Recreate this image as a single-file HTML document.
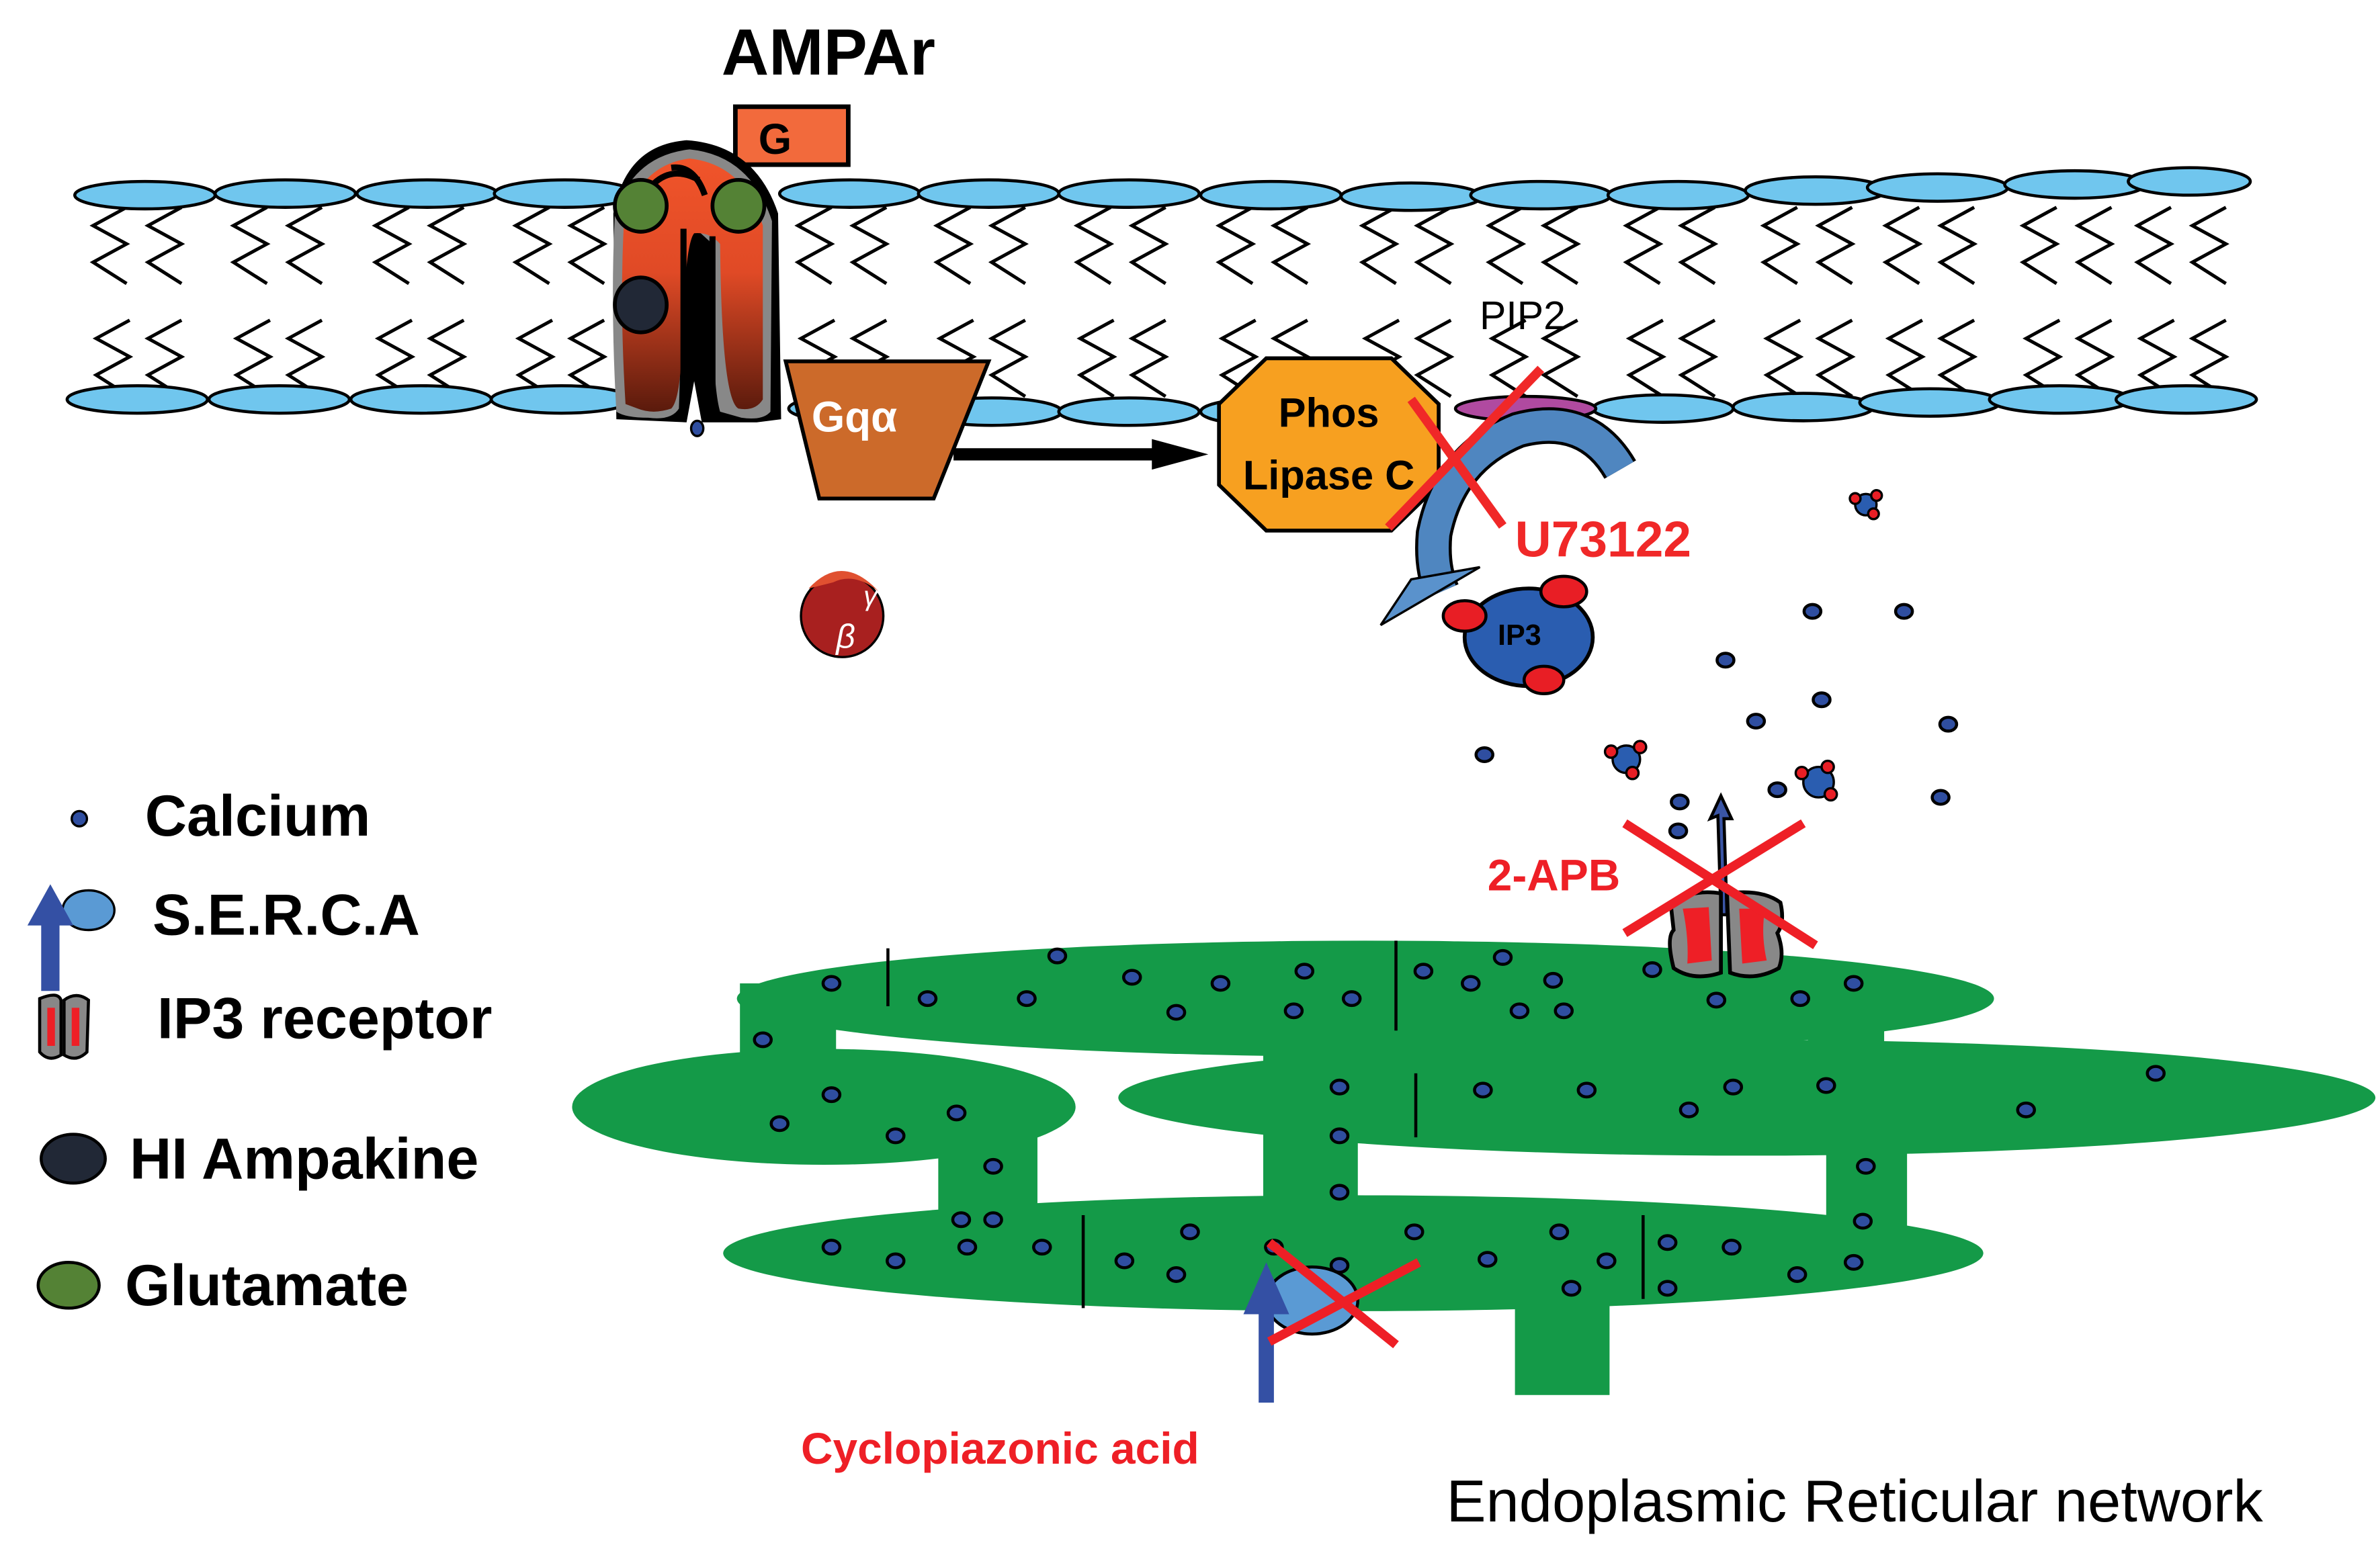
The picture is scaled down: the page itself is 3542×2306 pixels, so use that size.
<!DOCTYPE html>
<html><head><meta charset="utf-8"><style>
html,body{margin:0;padding:0;background:#fff;}
svg{display:block;}
text{font-family:"Liberation Sans",sans-serif;}
</style></head><body>
<svg width="3542" height="2306" viewBox="0 0 1560 1016" preserveAspectRatio="none" xmlns="http://www.w3.org/2000/svg">
<defs>
<linearGradient id="amp" x1="0" y1="0" x2="0" y2="1">
<stop offset="0" stop-color="#f0542a"/><stop offset="0.45" stop-color="#e04a26"/><stop offset="1" stop-color="#5a1a0c"/>
</linearGradient>
<g id="tu" fill="none" stroke="#000" stroke-width="2.2">
<polyline points="-12,136 -34,148 -12,160 -34,172 -12,186"/>
<polyline points="24,136 2,148 24,160 2,172 24,186"/>
</g>
<g id="tl" fill="none" stroke="#000" stroke-width="2.2">
<polyline points="-10,210 -32,222 -10,234 -32,246 -10,260"/>
<polyline points="24,210 2,222 24,234 2,246 24,260"/>
</g>
<g id="ca"><ellipse rx="5.5" ry="4.5" fill="#2f4ea0" stroke="#000" stroke-width="2"/></g>
</defs>

<!-- tails -->
<g>
<use href="#tu" x="95"/><use href="#tu" x="187"/><use href="#tu" x="280"/><use href="#tu" x="372"/>
<use href="#tu" x="557"/><use href="#tu" x="648"/><use href="#tu" x="740"/><use href="#tu" x="833"/><use href="#tu" x="927"/><use href="#tu" x="1010"/><use href="#tu" x="1100"/><use href="#tu" x="1190"/><use href="#tu" x="1270"/><use href="#tu" x="1360"/><use href="#tu" x="1435"/>
<use href="#tl" x="95"/><use href="#tl" x="187"/><use href="#tl" x="280"/><use href="#tl" x="372"/>
<use href="#tl" x="557"/><use href="#tl" x="648"/><use href="#tl" x="740"/><use href="#tl" x="833"/><use href="#tl" x="927"/><use href="#tl" x="1010"/><use href="#tl" x="1100"/><use href="#tl" x="1190"/><use href="#tl" x="1270"/><use href="#tl" x="1360"/><use href="#tl" x="1435"/>
</g>
<!-- heads -->
<g fill="#70c6ee" stroke="#000" stroke-width="2">
<ellipse cx="95" cy="128" rx="46" ry="9"/><ellipse cx="187" cy="127" rx="46" ry="9"/><ellipse cx="280" cy="127" rx="46" ry="9"/><ellipse cx="370" cy="127" rx="46" ry="9"/>
<ellipse cx="557" cy="127" rx="46" ry="9"/><ellipse cx="648" cy="127" rx="46" ry="9"/><ellipse cx="740" cy="127" rx="46" ry="9"/><ellipse cx="833" cy="128" rx="46" ry="9"/><ellipse cx="925" cy="129" rx="46" ry="9"/><ellipse cx="1010" cy="128" rx="46" ry="9"/><ellipse cx="1100" cy="128" rx="46" ry="9"/><ellipse cx="1190" cy="125" rx="46" ry="9"/><ellipse cx="1270" cy="123" rx="46" ry="9"/><ellipse cx="1360" cy="121" rx="46" ry="9"/><ellipse cx="1435" cy="119" rx="40" ry="9"/>
<ellipse cx="90" cy="262" rx="46" ry="9"/><ellipse cx="183" cy="262" rx="46" ry="9"/><ellipse cx="276" cy="262" rx="46" ry="9"/><ellipse cx="368" cy="262" rx="46" ry="9"/>
<ellipse cx="563" cy="268" rx="46" ry="9"/><ellipse cx="650" cy="270" rx="46" ry="9"/><ellipse cx="740" cy="270" rx="46" ry="9"/><ellipse cx="833" cy="270" rx="46" ry="9"/><ellipse cx="1090" cy="268" rx="46" ry="9"/><ellipse cx="1182" cy="267" rx="46" ry="9"/><ellipse cx="1265" cy="264" rx="46" ry="9"/><ellipse cx="1350" cy="262" rx="46" ry="9"/><ellipse cx="1433" cy="262" rx="46" ry="9"/>
</g>
<ellipse cx="1000" cy="268" rx="46" ry="8" fill="#b04aa0" stroke="#000" stroke-width="2"/>
<text x="998" y="216" font-size="26" text-anchor="middle">PIP2</text>

<!-- AMPAr -->
<text x="543" y="49" font-size="43" font-weight="bold" text-anchor="middle">AMPAr</text>
<rect x="482" y="70" width="74" height="38" fill="#f26a3c" stroke="#000" stroke-width="3"/>
<text x="508" y="101" font-size="28" font-weight="bold" text-anchor="middle">G</text>
<path d="M404,275 L402,140 Q410,95 450,92 Q495,95 510,140 L512,275 L496,277 L460,277 L455,250 L450,277 Z" fill="#000"/>
<path d="M404,270 Q400,200 403,140 Q415,102 452,98 Q492,102 506,145 L505,270 Q500,276 486,274 L472,270 Q466,250 467,160 L456,150 L448,150 Q446,240 445,268 Q440,276 425,274 Q410,274 404,270 Z" fill="#888"/>
<path d="M410,265 Q406,200 409,145 Q420,108 452,104 Q488,108 500,148 L500,262 Q495,270 484,268 Q473,262 472,160 Q465,152 455,153 Q449,160 447,225 Q446,262 440,268 Q428,272 418,268 Z" fill="url(#amp)"/>
<path d="M448,150 L448,262 M467,155 L467,265" stroke="#000" stroke-width="4"/>
<path d="M427,122 Q440,108 458,118 M440,110 Q455,108 462,128" stroke="#000" stroke-width="4" fill="none"/>
<circle cx="420" cy="135" r="17" fill="#548235" stroke="#000" stroke-width="2.5"/>
<circle cx="484" cy="135" r="17" fill="#548235" stroke="#000" stroke-width="2.5"/>
<ellipse cx="420" cy="200" rx="17" ry="18" fill="#212836" stroke="#000" stroke-width="2.5"/>
<ellipse cx="457" cy="281" rx="4" ry="5" fill="#2f4ea0" stroke="#000" stroke-width="1.5"/>

<!-- Gq -->
<polygon points="515,237 648,237 612,327 537,327" fill="#cc6a2a" stroke="#000" stroke-width="2.5"/>
<text x="560" y="283" font-size="28" font-weight="bold" fill="#fff" text-anchor="middle">Gqα</text>
<!-- arrow -->
<line x1="625" y1="298" x2="760" y2="298" stroke="#000" stroke-width="8"/>
<polygon points="755,288 792,298 755,308" fill="#000"/>

<!-- beta gamma -->
<circle cx="552" cy="404" r="27" fill="#a8201f" stroke="#000" stroke-width="1.5"/>
<path d="M530,386 Q552,362 576,388 Q560,375 546,382 Z" fill="#e05030"/>
<text x="548" y="425" font-size="22" fill="#fff" font-family="Liberation Serif" font-style="italic">β</text>
<text x="566" y="397" font-size="18" fill="#fff" font-family="Liberation Serif" font-style="italic">γ</text>

<!-- PLC -->
<polygon points="830,235 912,235 943,265 943,318 912,348 830,348 799,318 799,265" fill="#f7a020" stroke="#000" stroke-width="2.5"/>
<text x="871" y="280" font-size="27" font-weight="bold" text-anchor="middle">Phos</text>
<text x="871" y="321" font-size="27" font-weight="bold" text-anchor="middle">Lipase C</text>

<!-- curved arrow -->
<path d="M1062,308 Q1040,270 995,282 Q950,300 940,350 Q938,372 945,388" fill="none" stroke="#000" stroke-width="24"/>
<path d="M1062,308 Q1040,270 995,282 Q950,300 940,350 Q938,372 945,388" fill="none" stroke="#4f86c0" stroke-width="20"/>
<polygon points="925,380 970,372 905,410" fill="#5a92cc" stroke="#000" stroke-width="1.5"/>

<!-- red X PLC -->
<line x1="910" y1="346" x2="1010" y2="242" stroke="#f02828" stroke-width="6"/>
<line x1="925" y1="262" x2="985" y2="345" stroke="#f02828" stroke-width="6"/>
<text x="993" y="365" font-size="33" font-weight="bold" fill="#f02828">U73122</text>

<!-- IP3 -->
<ellipse cx="1002" cy="418" rx="42" ry="32" fill="#2a5db0" stroke="#000" stroke-width="2.5"/>
<ellipse cx="960" cy="404" rx="14" ry="10" fill="#e81e25" stroke="#000" stroke-width="2"/>
<ellipse cx="1025" cy="388" rx="15" ry="10" fill="#e81e25" stroke="#000" stroke-width="2"/>
<ellipse cx="1012" cy="446" rx="13" ry="9" fill="#e81e25" stroke="#000" stroke-width="2"/>
<text x="996" y="423" font-size="19" font-weight="bold" text-anchor="middle">IP3</text>

<!-- small IP3 clusters -->
<g stroke="#000" stroke-width="1.5">
<circle cx="1223" cy="331" r="7" fill="#2a5db0"/><circle cx="1216" cy="327" r="3.5" fill="#e81e25"/><circle cx="1230" cy="325" r="3.5" fill="#e81e25"/><circle cx="1228" cy="337" r="3.5" fill="#e81e25"/>
<circle cx="1066" cy="498" r="9" fill="#2a5db0"/><circle cx="1056" cy="493" r="4" fill="#e81e25"/><circle cx="1075" cy="490" r="4" fill="#e81e25"/><circle cx="1070" cy="507" r="4" fill="#e81e25"/>
<circle cx="1192" cy="513" r="10" fill="#2a5db0"/><circle cx="1181" cy="507" r="4" fill="#e81e25"/><circle cx="1198" cy="503" r="4" fill="#e81e25"/><circle cx="1200" cy="521" r="4" fill="#e81e25"/>
</g>

<!-- ER -->
<g fill="#149a48">
<ellipse cx="895" cy="655" rx="412" ry="38"/>
<ellipse cx="540" cy="726" rx="165" ry="38"/>
<ellipse cx="1145" cy="720" rx="412" ry="38"/>
<ellipse cx="887" cy="822" rx="413" ry="38"/>
<rect x="485" y="645" width="63" height="80"/>
<rect x="615" y="730" width="65" height="70"/>
<rect x="828" y="660" width="62" height="170"/>
<rect x="1185" y="650" width="50" height="60"/>
<rect x="1197" y="730" width="53" height="75"/>
<rect x="993" y="830" width="62" height="85"/>
</g>
<g stroke="#000" stroke-width="2">
<line x1="582" y1="622" x2="582" y2="660"/><line x1="915" y1="617" x2="915" y2="676"/><line x1="928" y1="704" x2="928" y2="746"/><line x1="710" y1="797" x2="710" y2="858"/><line x1="1077" y1="797" x2="1077" y2="852"/>
</g>
<!-- calcium dots -->
<g>
<use href="#ca" x="545" y="645"/><use href="#ca" x="608" y="655"/><use href="#ca" x="693" y="627"/><use href="#ca" x="673" y="655"/><use href="#ca" x="742" y="641"/><use href="#ca" x="771" y="664"/><use href="#ca" x="800" y="645"/><use href="#ca" x="855" y="637"/><use href="#ca" x="848" y="663"/><use href="#ca" x="886" y="655"/><use href="#ca" x="933" y="637"/><use href="#ca" x="964" y="645"/><use href="#ca" x="985" y="628"/><use href="#ca" x="1018" y="643"/><use href="#ca" x="996" y="663"/><use href="#ca" x="1025" y="663"/><use href="#ca" x="1083" y="636"/><use href="#ca" x="1125" y="656"/><use href="#ca" x="1180" y="655"/><use href="#ca" x="1215" y="645"/>
<use href="#ca" x="500" y="682"/><use href="#ca" x="545" y="718"/><use href="#ca" x="511" y="737"/><use href="#ca" x="587" y="745"/><use href="#ca" x="627" y="730"/><use href="#ca" x="651" y="765"/>
<use href="#ca" x="972" y="715"/><use href="#ca" x="1040" y="715"/><use href="#ca" x="1136" y="713"/><use href="#ca" x="1197" y="712"/><use href="#ca" x="1107" y="728"/><use href="#ca" x="1328" y="728"/><use href="#ca" x="1413" y="704"/><use href="#ca" x="878" y="713"/><use href="#ca" x="878" y="745"/>
<use href="#ca" x="878" y="782"/><use href="#ca" x="1223" y="765"/><use href="#ca" x="1221" y="801"/><use href="#ca" x="630" y="800"/><use href="#ca" x="651" y="800"/>
<use href="#ca" x="545" y="818"/><use href="#ca" x="587" y="827"/><use href="#ca" x="634" y="818"/><use href="#ca" x="683" y="818"/><use href="#ca" x="737" y="827"/><use href="#ca" x="771" y="836"/><use href="#ca" x="780" y="808"/><use href="#ca" x="835" y="818"/><use href="#ca" x="878" y="830"/><use href="#ca" x="927" y="808"/><use href="#ca" x="975" y="826"/><use href="#ca" x="1022" y="808"/><use href="#ca" x="1053" y="827"/><use href="#ca" x="1093" y="815"/><use href="#ca" x="1135" y="818"/><use href="#ca" x="1178" y="836"/><use href="#ca" x="1215" y="828"/><use href="#ca" x="1030" y="845"/><use href="#ca" x="1093" y="845"/>
<use href="#ca" x="1188" y="401"/><use href="#ca" x="1248" y="401"/><use href="#ca" x="1131" y="433"/><use href="#ca" x="1194" y="459"/><use href="#ca" x="1151" y="473"/><use href="#ca" x="1277" y="475"/><use href="#ca" x="973" y="495"/><use href="#ca" x="1165" y="518"/><use href="#ca" x="1272" y="523"/><use href="#ca" x="1101" y="526"/><use href="#ca" x="1100" y="545"/>
</g>

<!-- IP3 receptor on ER -->
<path d="M1128,600 L1126,535 L1121,537 L1128,522 L1135,537 L1130,537 L1132,600 Z" fill="#3a55a5" stroke="#000" stroke-width="2"/>
<path d="M1095,592 Q1110,583 1128,586 L1128,638 Q1110,644 1097,635 Q1092,615 1097,610 Z" fill="#888" stroke="#000" stroke-width="2.5"/>
<path d="M1132,586 Q1155,583 1167,592 Q1170,605 1165,612 Q1170,625 1166,635 Q1150,644 1134,638 Z" fill="#888" stroke="#000" stroke-width="2.5"/>
<path d="M1103,596 L1120,595 L1122,630 L1106,632 Q1107,615 1103,596 Z" fill="#ee1f26"/>
<path d="M1140,596 L1157,596 Q1154,612 1158,630 L1142,632 Z" fill="#ee1f26"/>
<line x1="1065" y1="540" x2="1190" y2="620" stroke="#ee1f26" stroke-width="6"/>
<line x1="1182" y1="540" x2="1065" y2="612" stroke="#ee1f26" stroke-width="6"/>
<text x="975" y="584" font-size="29" font-weight="bold" fill="#ee1f26">2-APB</text>

<!-- SERCA on ER -->
<ellipse cx="860" cy="853" rx="30" ry="22" fill="#5a9ad4" stroke="#000" stroke-width="2"/>
<path d="M825,920 L825,862 L815,862 L830,828 L845,862 L835,862 L835,920 Z" fill="#3450a4"/>
<line x1="832" y1="815" x2="915" y2="882" stroke="#ee1f26" stroke-width="6"/>
<line x1="930" y1="828" x2="832" y2="880" stroke="#ee1f26" stroke-width="6"/>
<text x="525" y="960" font-size="29" font-weight="bold" fill="#ee1f26">Cyclopiazonic acid</text>
<text x="948" y="998" font-size="39">Endoplasmic Reticular network</text>

<!-- legend -->
<ellipse cx="52" cy="537" rx="5" ry="5" fill="#2f4ea0" stroke="#000" stroke-width="1.5"/>
<text x="95" y="548" font-size="38" font-weight="bold">Calcium</text>
<ellipse cx="58" cy="597" rx="17" ry="13" fill="#5a9ad4" stroke="#000" stroke-width="1.5"/>
<path d="M27,650 L27,607 L18,607 L33,580 L48,607 L39,607 L39,650 Z" fill="#3450a4"/>
<text x="100" y="613" font-size="38" font-weight="bold">S.E.R.C.A</text>
<path d="M26,655 Q38,650 40,656 L40,692 Q32,697 26,690 Z" fill="#888" stroke="#000" stroke-width="2"/>
<path d="M42,656 Q50,650 58,656 L57,690 Q50,697 42,692 Z" fill="#888" stroke="#000" stroke-width="2"/>
<rect x="31" y="661" width="5" height="25" fill="#ee1f26"/><rect x="47" y="661" width="5" height="25" fill="#ee1f26"/>
<text x="103" y="681" font-size="38" font-weight="bold">IP3 receptor</text>
<ellipse cx="48" cy="760" rx="21" ry="16" fill="#212836" stroke="#000" stroke-width="2"/>
<text x="85" y="773" font-size="38" font-weight="bold">HI Ampakine</text>
<ellipse cx="45" cy="843" rx="20" ry="15" fill="#548235" stroke="#000" stroke-width="2"/>
<text x="82" y="856" font-size="38" font-weight="bold">Glutamate</text>
</svg>
</body></html>
